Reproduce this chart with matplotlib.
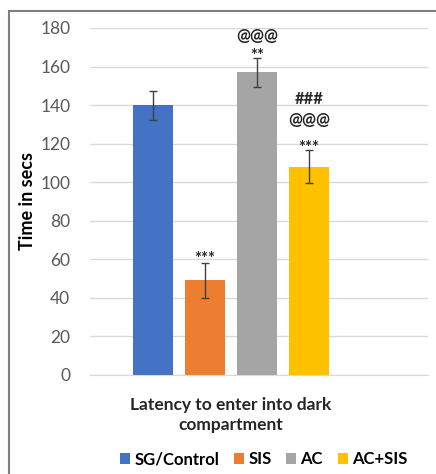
import matplotlib.pyplot as plt
from matplotlib.patches import Rectangle
import numpy as np

# Passive avoidance data
groups = ['SG/Control', 'SIS', 'AC', 'AC+SIS']
latency = [140, 49, 157, 108]
sem = [7.5, 9, 7.5, 8.5]
marks = [[], ['***'], ['**', '@@@'], ['***', '@@@', '###']]
colors = ['#4472C4', '#ED7D31', '#A5A5A5', '#FFC000']

plt.rcParams['font.family'] = ['Lato', 'DejaVu Sans']

fig = plt.figure(figsize=(4.36, 4.74), dpi=100)
ax = fig.add_axes([0.206, 0.209, 0.776, 0.732])

x = np.arange(len(groups))
bars = ax.bar(x, latency, 0.77, color=colors, zorder=2, label=groups)
ax.errorbar(x, latency, yerr=sem, fmt='none', ecolor='#404040',
            elinewidth=1, capsize=3, capthick=1, zorder=3)

# significance markers stacked above the error bars
gaps = {1: [2.3], 2: [1, 11.5], 3: [1.3, 15.5, 26.5]}
for i, labs in enumerate(marks):
    for j, s in enumerate(labs):
        ax.text(x[i], latency[i] + sem[i] + gaps[i][j], s, ha='center',
                va='center', fontsize=12, color='#262626', fontweight='bold')

ax.set_xlim(-1.21, 5.29)
ax.set_ylim(0, 180)
ax.set_yticks(range(0, 181, 20))
ax.tick_params(axis='y', length=0, labelsize=12.5, labelcolor='#595959', pad=14)
ax.set_xticks([])
ax.grid(axis='y', color='#D9D9D9', linewidth=1, zorder=0)
for side in ['top', 'right', 'left']:
    ax.spines[side].set_visible(False)
ax.spines['bottom'].set_color('#D9D9D9')

ax.set_ylabel('Time in secs', fontsize=13, fontweight='bold')
ax.yaxis.set_label_coords(-0.16, 0.5)
ax.text(1.5, -0.065, 'Latency to enter into dark\ncompartment',
        transform=ax.get_xaxis_transform(), ha='center', va='top',
        fontsize=12.5, fontweight='bold', color='#262626', linespacing=1.3)

fig.legend(handles=list(bars), labels=groups, loc='center',
           bbox_to_anchor=(0.605, 0.031), ncol=4, frameon=False,
           handlelength=0.6, handleheight=0.6, handletextpad=0.25,
           columnspacing=0.9, prop={'size': 12, 'weight': 'bold'})

# outer frame
fig.patches.append(Rectangle((0.021, -0.02), 1.1, 0.997, transform=fig.transFigure,
                             fill=False, edgecolor='#7F7F7F', linewidth=1.5))

fig.savefig('out.png', dpi=100)
